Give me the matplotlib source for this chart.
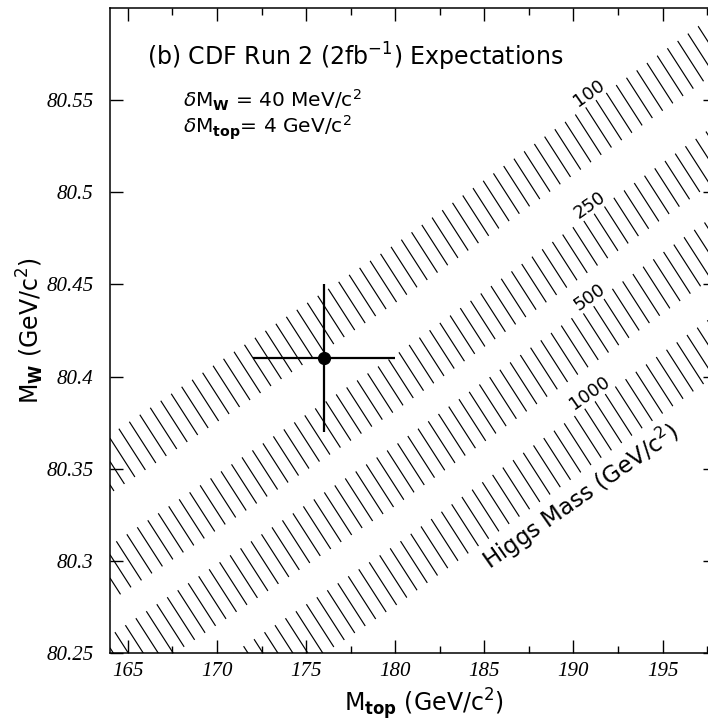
import numpy as np
import matplotlib
matplotlib.use("Agg")
import matplotlib.pyplot as plt
from matplotlib.collections import LineCollection

plt.rcParams['font.family'] = ['DejaVu Sans']
plt.rcParams['mathtext.fontset'] = 'dejavusans'

# band edges (Higgs mass lines), read at three top-mass values
mt_grid = [164.0, 180.0, 198.0]
band_names = ["100", "250", "500", "1000"]
band_lo = [[80.3365, 80.4399, 80.5651],
           [80.2780, 80.3813, 80.5065],
           [80.2265, 80.3298, 80.4550],
           [80.1722, 80.2755, 80.4008]]
band_hi = [[80.3685, 80.4719, 80.5971],
           [80.3083, 80.4117, 80.5369],
           [80.2595, 80.3628, 80.4881],
           [80.2053, 80.3086, 80.4339]]
label_x = [190.9, 190.9, 190.9, 190.9]
label_y = [80.554, 80.493, 80.443, 80.391]

# expected measurement
mt_point = 176.0
mw_point = 80.41
mt_err = 4.0
mw_err = 0.04

xticks = [165, 170, 175, 180, 185, 190, 195]
yticks = [80.25, 80.3, 80.35, 80.4, 80.45, 80.5, 80.55]

fig = plt.figure(figsize=(7.08, 7.21), dpi=100)
ax = fig.add_axes([110/708, 68/721, 606/708, 645/721])
ax.set_xlim(164, 198)
ax.set_ylim(80.25, 80.6)

# hatch lines going down to the right: slope and spacing in data units
k = -0.01506
dy = 0.01264
offsets = np.arange(80.0, 81.2, dy)
segs = [[(164, c), (198, c + k*(198 - 164))] for c in offsets]

for lo, hi in zip(band_lo, band_hi):
    poly = ax.fill_between(mt_grid, lo, hi, facecolor='none', edgecolor='none')
    lc = LineCollection(segs, colors='black', linewidths=0.85)
    ax.add_collection(lc)
    lc.set_clip_path(poly.get_paths()[0], ax.transData)

for name, lx, ly in zip(band_names, label_x, label_y):
    ax.text(lx, ly, name, rotation=35, ha='center', va='center', fontsize=13,
            rotation_mode='anchor',
            bbox=dict(facecolor='white', edgecolor='none', pad=0.5), zorder=4)

ax.text(190.4, 80.335, r"Higgs Mass (GeV/c$^2$)", rotation=35, ha='center',
        va='center', fontsize=16.5, rotation_mode='anchor', zorder=4)

ax.errorbar([mt_point], [mw_point], xerr=[mt_err], yerr=[mw_err], fmt='o',
            color='black', markersize=8.5, elinewidth=1.6, capsize=0, zorder=5)

ax.text(0.061, 0.910, r"(b) CDF Run 2 (2fb$^{-1}$) Expectations",
        transform=ax.transAxes, fontsize=17, ha='left', va='baseline')
ax.text(0.120, 0.845, r"$\delta$M$_{\mathbf{W}}$ = 40 MeV/c$^2$",
        transform=ax.transAxes, fontsize=14.5, ha='left', va='baseline')
ax.text(0.120, 0.805, r"$\delta$M$_{\mathbf{top}}$= 4 GeV/c$^2$",
        transform=ax.transAxes, fontsize=14.5, ha='left', va='baseline')

ax.set_xticks(xticks)
ax.set_xticks(np.arange(167.5, 198, 5), minor=True)
ax.set_yticks(yticks)
ax.set_xticklabels([str(t) for t in xticks])
ax.set_yticklabels(["80.25", "80.3", "80.35", "80.4", "80.45", "80.5", "80.55"])
for lab in ax.get_xticklabels() + ax.get_yticklabels():
    lab.set_family('Liberation Serif')
    lab.set_style('italic')
    lab.set_fontsize(15)
ax.tick_params(which='both', direction='in', top=True, right=True, width=1.0)
ax.tick_params(which='major', length=9.5)
ax.tick_params(which='minor', length=5)
ax.tick_params(axis='x', pad=6.5)
ax.tick_params(axis='y', pad=12)
for sp in ax.spines.values():
    sp.set_linewidth(1.1)

ax.set_xlabel(r"M$_{\mathbf{top}}$ (GeV/c$^2$)", fontsize=17)
ax.set_ylabel(r"M$_{\mathbf{W}}$ (GeV/c$^2$)", fontsize=17)
ax.xaxis.set_label_coords(0.518, -0.052)
ax.yaxis.set_label_coords(-0.105, 0.5)

fig.savefig("out.png", dpi=100)
